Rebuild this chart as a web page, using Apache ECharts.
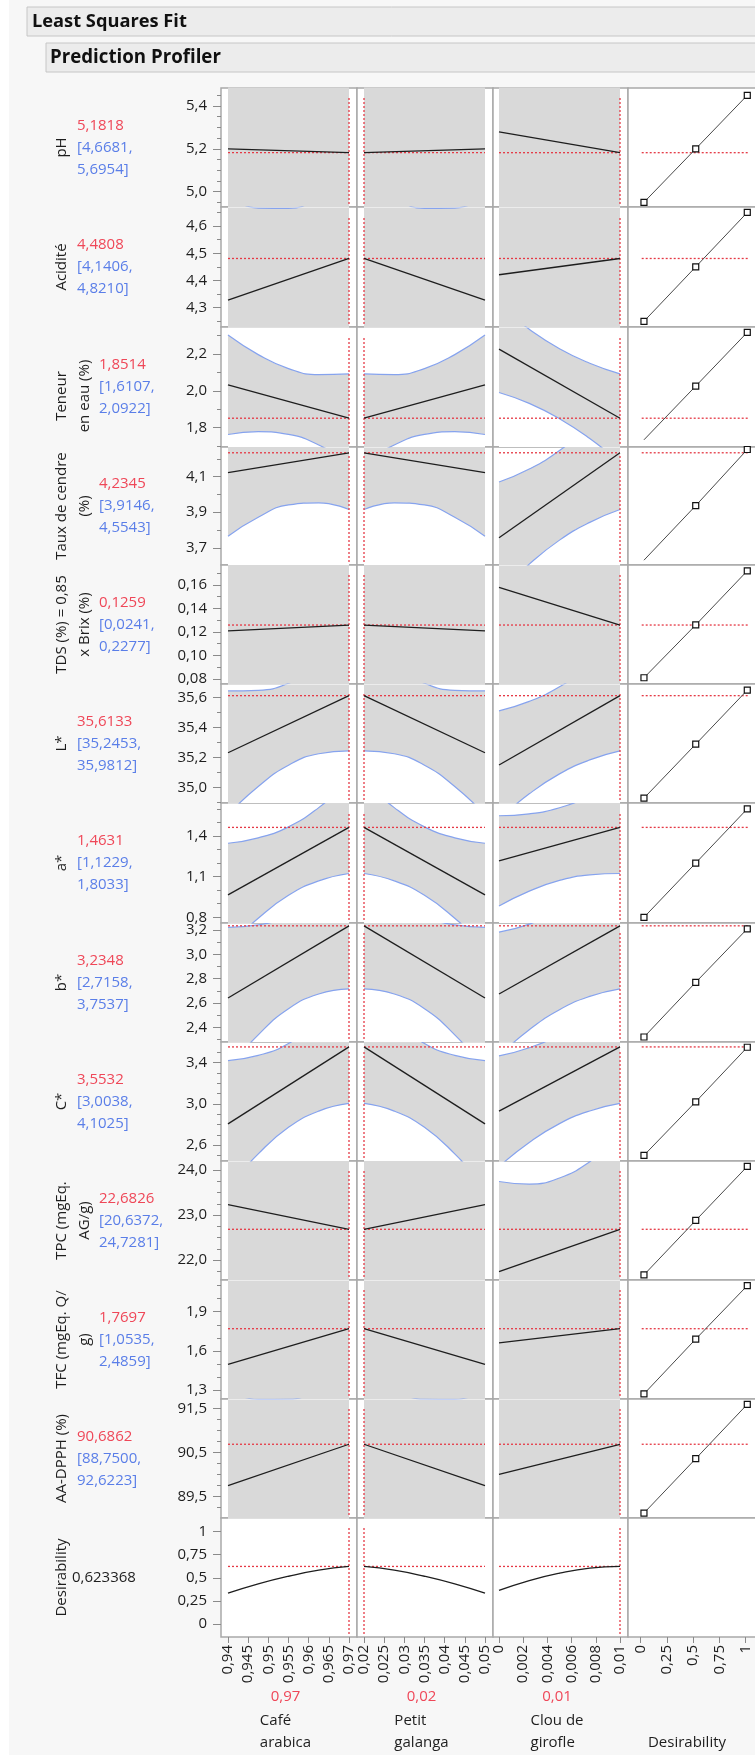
<!DOCTYPE html>
<html><head><meta charset="utf-8">
<script src="https://cdn.jsdelivr.net/npm/echarts@6/dist/echarts.min.js"></script>
<style>html,body{margin:0;padding:0;background:#f7f7f7}#c{width:755px;height:1755px}</style>
</head><body><div id="c"></div><script>
// ---------------- DATA ----------------
const responseNames = ['pH','Acidité','Teneur\nen eau (%)','Taux de cendre\n(%)','TDS (%) = 0,85\nx Brix (%)','L*','a*','b*','C*','TPC (mgEq.\nAG/g)','TFC (mgEq. Q/\ng)','AA-DPPH (%)'];
const predicted = [5.1818, 4.4808, 1.8514, 4.2345, 0.1259, 35.6133, 1.4631, 3.2348, 3.5532, 22.6826, 1.7697, 90.6862];
const ciLower  = [4.6681, 4.1406, 1.6107, 3.9146, 0.0241, 35.2453, 1.1229, 2.7158, 3.0038, 20.6372, 1.0535, 88.7500];
const ciUpper  = [5.6954, 4.8210, 2.0922, 4.5543, 0.2277, 35.9812, 1.8033, 3.7537, 4.1025, 24.7281, 2.4859, 92.6223];
const desirabilityName = 'Desirability';
const desirabilityValue = 0.623368;

const factorNames = ['Café\narabica','Petit\ngalanga','Clou de\ngirofle'];
const factorCurrent = [0.97, 0.02, 0.01];
const factorMin = [0.94, 0.02, 0];
const factorMax = [0.97, 0.05, 0.01];
const factorTicks = [
  [0.94,0.945,0.95,0.955,0.96,0.965,0.97],
  [0.02,0.025,0.03,0.035,0.04,0.045,0.05],
  [0,0.002,0.004,0.006,0.008,0.01]
];
const desirabilityTicks = [0,0.25,0.5,0.75,1];

const bandX = [
  [0.94,0.9475,0.955,0.9625,0.97],
  [0.02,0.0275,0.035,0.0425,0.05],
  [0,0.0025,0.005,0.0075,0.01]
];
const predAtCafe094    = [5.200, 4.328, 2.033, 4.123, 0.121, 35.233, 0.965, 2.641, 2.806, 23.23, 1.496, 89.749];
const predAtGalanga005 = [5.200, 4.328, 2.033, 4.123, 0.121, 35.233, 0.965, 2.641, 2.806, 23.23, 1.496, 89.749];
const predAtClou0      = [5.279, 4.421, 2.227, 3.756, 0.158, 35.151, 1.216, 2.674, 2.929, 21.74, 1.661, 90.007];

const upperCafe = [
 [5.775,5.643,5.572,5.594,5.695],[4.709,4.666,4.665,4.713,4.821],[2.303,2.197,2.121,2.088,2.092],
 [4.481,4.430,4.416,4.461,4.554],[0.235,0.211,0.199,0.206,0.228],[35.645,35.649,35.696,35.810,35.981],
 [1.346,1.386,1.467,1.609,1.803],[3.222,3.242,3.323,3.499,3.754],[3.421,3.471,3.587,3.803,4.103],
 [25.521,24.875,24.474,24.444,24.728],[2.298,2.188,2.164,2.270,2.486],[91.918,91.700,91.705,91.989,92.622]
];
const lowerCafe = [
 [4.625,4.748,4.810,4.779,4.668],[3.947,4.070,4.152,4.173,4.141],[1.763,1.778,1.764,1.706,1.611],
 [3.765,3.872,3.941,3.953,3.915],[0.007,0.034,0.048,0.044,0.024],[34.821,35.008,35.150,35.226,35.245],
 [0.584,0.793,0.962,1.069,1.123],[2.060,2.338,2.553,2.674,2.716],[2.191,2.514,2.772,2.930,3.004],
 [20.939,21.312,21.439,21.195,20.637],[0.694,0.941,1.102,1.133,1.054],[87.581,88.297,88.781,88.915,88.750]
];
const upperGalanga = [
 [5.695,5.594,5.572,5.643,5.775],[4.821,4.713,4.665,4.666,4.709],[2.092,2.088,2.121,2.197,2.303],
 [4.554,4.461,4.416,4.430,4.481],[0.228,0.206,0.199,0.211,0.235],[35.981,35.810,35.696,35.649,35.645],
 [1.803,1.609,1.467,1.386,1.346],[3.754,3.499,3.323,3.242,3.222],[4.103,3.803,3.587,3.471,3.421],
 [24.728,24.444,24.474,24.875,25.521],[2.486,2.270,2.164,2.188,2.298],[92.622,91.989,91.705,91.700,91.918]
];
const lowerGalanga = [
 [4.668,4.779,4.810,4.748,4.625],[4.141,4.173,4.152,4.070,3.947],[1.611,1.706,1.764,1.778,1.763],
 [3.915,3.953,3.941,3.872,3.765],[0.024,0.044,0.048,0.034,0.007],[35.245,35.226,35.150,35.008,34.821],
 [1.123,1.069,0.962,0.793,0.584],[2.716,2.674,2.553,2.338,2.060],[3.004,2.930,2.772,2.514,2.191],
 [20.637,21.195,21.439,21.312,20.939],[1.054,1.133,1.102,0.941,0.694],[88.750,88.915,88.781,88.297,87.581]
];
const upperClou = [
 [5.782,5.685,5.635,5.642,5.695],[4.754,4.721,4.719,4.755,4.821],[2.463,2.335,2.229,2.150,2.092],
 [4.070,4.143,4.247,4.387,4.554],[0.258,0.235,0.222,0.220,0.228],[35.512,35.575,35.672,35.810,35.981],
 [1.549,1.563,1.608,1.690,1.803],[3.183,3.249,3.363,3.535,3.754],[3.467,3.545,3.674,3.864,4.103],
 [23.745,23.688,23.823,24.184,24.728],[2.363,2.288,2.280,2.351,2.486],[91.905,91.797,91.872,92.160,92.622]
];
const lowerClou = [
 [4.776,4.825,4.826,4.770,4.668],[4.088,4.151,4.183,4.177,4.141],[1.991,1.932,1.849,1.741,1.611],
 [3.443,3.608,3.743,3.843,3.915],[0.058,0.065,0.062,0.048,0.024],[34.790,34.959,35.092,35.185,35.245],
 [0.883,0.993,1.072,1.113,1.123],[2.165,2.380,2.545,2.654,2.716],[2.391,2.625,2.808,2.931,3.004],
 [19.735,20.264,20.599,20.710,20.637],[0.959,1.089,1.151,1.134,1.054],[88.110,88.556,88.821,88.873,88.750]
];

const desirCafe    = [0.333,0.434,0.517,0.583,0.623];
const desirGalanga = [0.623,0.583,0.517,0.434,0.333];
const desirClou    = [0.363,0.470,0.550,0.605,0.623];

const desFnX = [0.033,0.526,1.017];
const desFnY = [[4.95,5.20,5.45],[4.25,4.45,4.65],[1.734,2.026,2.318],[3.63,3.937,4.253],[0.081,0.126,0.172],
 [34.93,35.29,35.65],[0.80,1.20,1.60],[2.32,2.77,3.21],[2.50,3.02,3.55],[21.67,22.88,24.08],[1.27,1.69,2.10],[89.13,90.36,91.59]];
const desFnLowMarker = [true,true,false,false,true,true,true,true,true,true,true,true];

const yRange = [[4.928,5.484],[4.229,4.670],[1.695,2.347],[3.603,4.267],[0.0757,0.177],[34.898,35.691],
 [0.758,1.643],[2.279,3.258],[2.445,3.601],[21.556,24.2],[1.231,2.143],[89.018,91.71],[-0.141,1.148]];
const yMajorTicks = [[5.0,5.2,5.4],[4.3,4.4,4.5,4.6],[1.8,2.0,2.2],[3.7,3.9,4.1],[0.08,0.10,0.12,0.14,0.16],
 [35.0,35.2,35.4,35.6],[0.8,1.1,1.4],[2.4,2.6,2.8,3.0,3.2],[2.6,3.0,3.4],[22,23,24],[1.3,1.6,1.9],[89.5,90.5,91.5],[0,0.25,0.5,0.75,1]];
const yMinorTicks = [[4.95,5.05,5.1,5.15,5.25,5.3,5.35,5.45],[4.25,4.35,4.45,4.55,4.65],[1.7,1.9,2.1,2.3],[3.8,4.0,4.2],
 [0.09,0.11,0.13,0.15,0.17],[34.9,35.1,35.3,35.5],[0.9,1.0,1.2,1.3,1.5,1.6],[2.3,2.5,2.7,2.9,3.1],
 [2.5,2.7,2.8,2.9,3.1,3.2,3.3,3.5],[21.75,22.25,22.5,22.75,23.25,23.5,23.75],[1.4,1.5,1.7,1.8,2.0,2.1],
 [89.25,89.75,90,90.25,90.75,91,91.25],[]];
const yDecimals = [1,1,1,1,2,1,1,1,1,1,1,1,null];

// ---------------- LAYOUT / STYLE ----------------
const rowTops = [88,207,327,447,565,684,803,923,1042,1161,1280,1399,1518,1637];
const colX = [221,357,493,628,760];
const padL = [7,7,6], padR = 8;
const desPadL = 12.5, desUnitPx = 105;
const desRefFromPx = 13.7, desRefToPx = 120.3;
const nameShiftY = [0,0,9,0,0,0,0,0,0,0,0,0,0];
const FONT = '"Open Sans","Noto Sans",sans-serif';
const C = {frame:'#a9a9a9', tick:'#8a8a8a', band:'#d9d9d9', ci:'#86a3ee', pred:'#1e1e1e', ref:'#e53945',
  red:'#ef4758', blue:'#5a7ee8', text:'#1e1e1e', header:'#ececec', headerBorder:'#c6c6c6'};
const comma = v => String(v).replace('.', ',');
const fix = (v,d) => v.toFixed(d).replace('.', ',');

const uppers = [upperCafe, upperGalanga, upperClou];
const lowers = [lowerCafe, lowerGalanga, lowerClou];
const desirCurves = [desirCafe, desirGalanga, desirClou];
const predLine = (r,c) => [
  [[factorMin[0], predAtCafe094[r]], [factorMax[0], predicted[r]]],
  [[factorMin[1], predicted[r]], [factorMax[1], predAtGalanga005[r]]],
  [[factorMin[2], predAtClou0[r]], [factorMax[2], predicted[r]]]
][c];

const grids=[], xAxes=[], yAxes=[], series=[], graphics=[];
const nRows = 13;
const base = (g, extra) => Object.assign({type:'line', xAxisIndex:g, yAxisIndex:g, symbol:'none', silent:true, animation:false}, extra);

for (let r=0; r<nRows; r++) {
  const top = rowTops[r], h = rowTops[r+1]-top;
  const ymin = yRange[r][0], ymax = yRange[r][1];
  const dec = yDecimals[r];
  const isDesRow = r === nRows-1;
  for (let c=0; c<4; c++) {
    const g = r*4+c;
    const left = colX[c], w = colX[c+1]-left;
    grids.push({left, top, width:w, height:h, show:true, backgroundColor:'#fff', borderColor:C.frame, borderWidth:1.5,
      containLabel:false, outerBoundsMode:'none'});
    let xmin, xmax, ticks;
    if (c < 3) {
      const unit = (factorMax[c]-factorMin[c])/(w-padL[c]-padR);
      xmin = factorMin[c]-padL[c]*unit; xmax = factorMax[c]+padR*unit; ticks = factorTicks[c];
    } else {
      xmin = -desPadL/desUnitPx; xmax = (w-desPadL)/desUnitPx; ticks = desirabilityTicks;
    }
    xAxes.push({gridIndex:g, type:'value', position:'bottom', min:xmin, max:xmax, show:isDesRow,
      axisLine:{show:false, onZero:false}, splitLine:{show:false},
      axisTick:{show:true, length:6, customValues:ticks, lineStyle:{color:C.tick}},
      axisLabel:{show:true, interval:0, customValues:ticks, rotate:90, margin:8, fontSize:15, fontFamily:FONT, color:C.text, formatter:v=>comma(v)}});
    yAxes.push({gridIndex:g, type:'value', position:'left', min:ymin, max:ymax, show:c===0,
      axisLine:{show:false, onZero:false}, splitLine:{show:false},
      axisTick:{show:true, length:8, customValues:yMajorTicks[r], lineStyle:{color:C.tick}},
      axisLabel:{show:true, customValues:yMajorTicks[r], margin:14, fontSize:15, fontFamily:FONT, color:C.text,
        formatter:v => dec==null ? comma(v) : fix(v,dec)}});

    const vY1 = ymin + 3/h*(ymax-ymin), vY2 = ymax - 9/h*(ymax-ymin);
    const refStyle = {color:C.ref, width:1.3, type:[2,2]};
    if (c < 3) {
      const cur = isDesRow ? desirabilityValue : predicted[r];
      if (!isDesRow) {
        const xs = bandX[c], lo = lowers[c][r], hi = uppers[c][r];
        series.push(base(g,{smooth:true, z:2, data:xs.map((x,i)=>[x,hi[i]]), lineStyle:{color:C.ci,width:1.2},
          areaStyle:{color:C.band, opacity:1, origin:'start'}}));
        series.push(base(g,{smooth:true, z:3, data:xs.map((x,i)=>[x,lo[i]]), lineStyle:{color:C.ci,width:1.2},
          areaStyle:{color:'#ffffff', opacity:1, origin:'start'}}));
        series.push(base(g,{z:6, data:predLine(r,c), lineStyle:{color:C.pred,width:1.3}}));
      } else {
        series.push(base(g,{z:6, smooth:true, data:bandX[c].map((x,i)=>[x,desirCurves[c][i]]), lineStyle:{color:C.pred,width:1.3}}));
      }
      series.push(base(g,{z:5, data:[[factorMin[c],cur],[factorMax[c],cur]], lineStyle:refStyle}));
      series.push(base(g,{z:5, data:[[factorCurrent[c],vY1],[factorCurrent[c],vY2]], lineStyle:refStyle}));
    } else if (!isDesRow) {
      series.push(base(g,{z:6, symbol:'rect', symbolSize:6, showSymbol:true,
        data:desFnX.map((x,i)=>(i===0 && !desFnLowMarker[r]) ? {value:[x,desFnY[r][i]], symbol:'none'} : {value:[x,desFnY[r][i]]}),
        itemStyle:{color:'#fff', borderColor:'#111', borderWidth:1.2}, lineStyle:{color:'#4a4a4a', width:1}}));
      const f = (desRefFromPx-desPadL)/desUnitPx, t = (desRefToPx-desPadL)/desUnitPx;
      series.push(base(g,{z:5, data:[[f,predicted[r]],[t,predicted[r]]], lineStyle:refStyle}));
    }
  }
}
for (let r=0; r<nRows; r++) {
  if (!yMinorTicks[r].length) continue;
  yAxes.push({gridIndex:r*4, type:'value', position:'left', min:yRange[r][0], max:yRange[r][1],
    axisLine:{show:false, onZero:false}, splitLine:{show:false},
    axisTick:{show:true, length:4, customValues:yMinorTicks[r], lineStyle:{color:C.tick}},
    axisLabel:{show:false}});
}

// ---------------- TEXT / DECOR ----------------
const ctx = document.createElement('canvas').getContext('2d');
const fitSize = (text, target, size) => { ctx.font = 'bold ' + size + 'px ' + FONT; return size * target / ctx.measureText(text).width; };
graphics.push({type:'rect', silent:true, z:-10, shape:{x:0,y:0,width:9,height:1755}, style:{fill:'#fff'}});
graphics.push({type:'rect', silent:true, shape:{x:27,y:7,width:740,height:29}, style:{fill:C.header, stroke:C.headerBorder, lineWidth:1}});
graphics.push({type:'text', silent:true, x:32, y:22, style:{text:'Least Squares Fit', fontSize:fitSize('Least Squares Fit',155,18), fontWeight:'bold', fontFamily:FONT, fill:'#111', verticalAlign:'middle'}});
graphics.push({type:'rect', silent:true, shape:{x:46,y:43,width:720,height:29}, style:{fill:C.header, stroke:C.headerBorder, lineWidth:1}});
graphics.push({type:'text', silent:true, x:50, y:58, style:{text:'Prediction Profiler', fontSize:fitSize('Prediction Profiler',171,18), fontWeight:'bold', fontFamily:FONT, fill:'#111', verticalAlign:'middle'}});

const txt = (x,y,text,fill,extra) => ({type:'text', silent:true, x, y, ...(extra&&extra.el||{}),
  style:Object.assign({text, fontSize:15, fontFamily:FONT, fill, verticalAlign:'middle', align:'left'}, extra&&extra.style||{})});

for (let r=0; r<nRows; r++) {
  const cy = (rowTops[r]+rowTops[r+1])/2;
  const isDesRow = r === nRows-1;
  const name = isDesRow ? desirabilityName : responseNames[r];
  const nl = name.split('\n').length;
  graphics.push(txt(62+(nl-1)*11.5, cy+nameShiftY[r], name, C.text, {el:{rotation:Math.PI/2}, style:{align:'center', lineHeight:23}}));
  if (isDesRow) {
    graphics.push(txt(72, cy, fix(desirabilityValue,6), C.text));
  } else {
    const vx = nl > 1 ? 99 : 77;
    graphics.push(txt(vx, cy-22, fix(predicted[r],4), C.red));
    graphics.push(txt(vx, cy, '['+fix(ciLower[r],4)+',', C.blue));
    graphics.push(txt(vx, cy+22, fix(ciUpper[r],4)+']', C.blue));
  }
}
ctx.font = '15px ' + FONT;
for (let c=0; c<3; c++) {
  const cx = (colX[c]+colX[c+1])/2 - 3.5;
  graphics.push(txt(cx, 1697, comma(factorCurrent[c]), C.red, {style:{align:'center'}}));
  const lines = factorNames[c].split('\n');
  const maxW = Math.max(...lines.map(l => ctx.measureText(l).width));
  lines.forEach((l,i) => graphics.push(txt(cx-maxW/2, 1743-(lines.length-1-i)*22, l, C.text)));
}
graphics.push(txt(687, 1743, desirabilityName, C.text, {style:{align:'center'}}));

const chart = echarts.init(document.getElementById('c'), null, {renderer:'canvas'});
chart.setOption({animation:false, backgroundColor:'#f7f7f7', grid:grids, xAxis:xAxes, yAxis:yAxes, series, graphic:{elements:graphics}});
</script></body></html>
